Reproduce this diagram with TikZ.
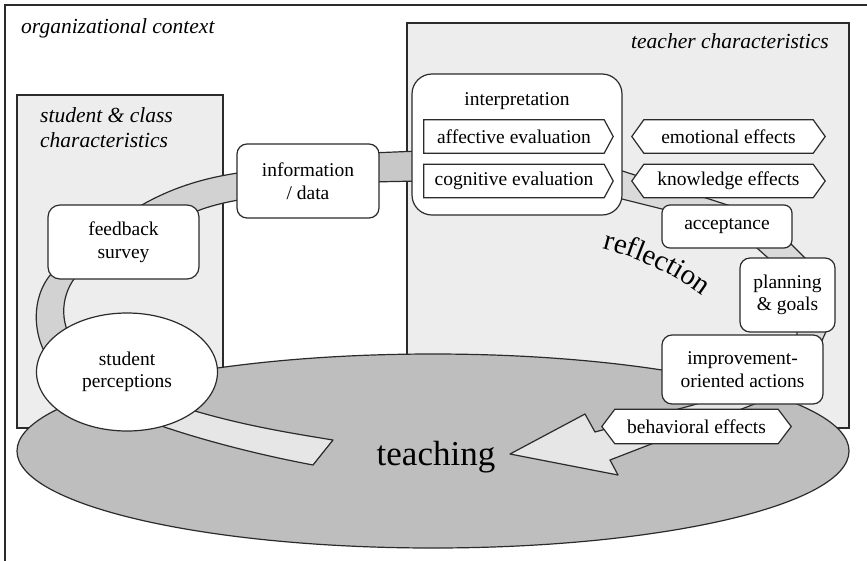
\documentclass[tikz,border=0pt]{standalone}
\usepackage{fontspec}
\setmainfont{Liberation Serif}
\usetikzlibrary{calc,shapes.geometric,decorations.text}
\definecolor{linec}{HTML}{2B2B2B}
\definecolor{panel}{HTML}{EDEDED}
\definecolor{teachc}{HTML}{BEBEBE}
\definecolor{bandD}{HTML}{C8C8C8}
\definecolor{bandM}{HTML}{D2D2D2}
\definecolor{bandMM}{HTML}{DADADA}
\definecolor{bandL}{HTML}{E6E6E6}
\pgfdeclarelayer{back}
\pgfdeclarelayer{mid}
\pgfsetlayers{back,mid,main}
\begin{document}
\begin{tikzpicture}[x=1pt,y=-1pt,
  ln/.style={draw=linec, line width=1.2pt},
  box/.style={ln, fill=white, rounded corners=10pt, align=center, inner sep=0pt, font=\fontsize{19.5}{22.5}\selectfont},
  txt/.style={inner sep=0pt, align=center, font=\fontsize{19.5}{22.5}\selectfont},
  lab/.style={inner sep=0pt, align=left, font=\fontsize{21.5}{25}\selectfont\itshape},
  band/.style={ln, line join=round},
  hexo/.style={ln, fill=white, line join=miter}
]
\useasboundingbox (0,0) rectangle (867,560);

\begin{pgfonlayer}{back}
  \fill[white] (0,0) rectangle (867,560);
  \draw[ln, line width=1.4pt] (5,570) -- (5,5) -- (875,5);
  \draw[ln, fill=panel] (17,95) rectangle (223,428);
  \draw[ln, fill=panel] (407,23) rectangle (849,428);
  \node[ellipse, ln, fill=teachc, minimum width=832pt, minimum height=194pt, inner sep=0pt] (teachell) at (433,451) {};
  % loop band
  \draw[band, fill=bandL] (185,408) .. controls (240,425) and (290,433) .. (333,440) -- (313,465) .. controls (260,455) and (200,440) .. (150,422) -- cycle;
  \draw[band, fill=bandM] (55,270) .. controls (33,290) and (30,330) .. (48,358) -- (72,340) .. controls (58,318) and (62,288) .. (82,270) -- cycle;
  \draw[band, fill=bandM] (124,216) .. controls (163,190) and (200,178) .. (245,172) -- (245,199) .. controls (225,202) and (205,207) .. (190,214) -- cycle;
  \draw[band, fill=bandD] (370,153) -- (420,151) -- (420,181) -- (370,182) -- cycle;
  \draw[band, fill=bandMM] (610,167) -- (740,209) -- (690,216) -- (610,196) -- cycle;
  \draw[band, fill=bandMM] (748,240) -- (776,265) -- (812,265) -- (787,240) -- cycle;
  \draw[band, fill=bandMM] (797,325) -- (797,345) -- (820,345) -- (829,325) -- cycle;
  \draw[band, fill=bandL] (715,399) -- (595,432) -- (585,414) -- (510,454) -- (618,475) -- (610,460) -- (770,398) -- cycle;
  \node[box, minimum width=210pt, minimum height=141pt, rounded corners=20pt] (interp) at (517,144.5) {};
\end{pgfonlayer}

% labels
\node[lab, anchor=base west] (org) at (21,33) {organizational context};
\node[lab, anchor=north west] (stud) at (40,107) {student \& class\\characteristics};
\node[lab, anchor=base east] (teach) at (829,48) {teacher characteristics};

% nodes
\node[box, minimum width=151pt, minimum height=74pt, rounded corners=12pt] (fb) at (123.5,242) {feedback\\survey};
\node[box, minimum width=142pt, minimum height=74pt] (info) at (308,181) {information\\/ data};
\node[txt, anchor=base] (interpt) at (517,105) {interpretation};
\node[txt, minimum width=180pt, minimum height=33pt] (aff) at (514,136.5) {affective evaluation};
\node[txt, minimum width=180pt, minimum height=33pt] (cog) at (514,181) {cognitive evaluation};
\node[txt, minimum width=169pt, minimum height=33pt] (emo) at (728.5,136.5) {emotional effects};
\node[txt, minimum width=169pt, minimum height=33pt] (know) at (728.5,181) {knowledge effects};
\node[box, minimum width=130pt, minimum height=43pt, rounded corners=8pt] (acc) at (727,226.5) {acceptance};
\node[box, minimum width=95pt, minimum height=74pt] (plan) at (787.5,295) {planning\\\& goals};
\node[box, minimum width=161pt, minimum height=69pt] (impr) at (742.5,369.5) {improvement-\\oriented actions};
\node[txt, minimum width=163pt, minimum height=34pt] (beh) at (696.5,426.5) {behavioral effects};
\node[ellipse, ln, fill=white, minimum width=181pt, minimum height=118pt, inner sep=0pt, align=center, font=\fontsize{19.5}{22.5}\selectfont] (sp) at (127,372) {student\\perceptions};

\node[inner sep=0pt, anchor=base, font=\fontsize{35}{35}\selectfont] (teaching) at (436,465) {teaching};
\path[decorate, decoration={text along path, text align=center,
  text={|\fontsize{29}{29}\selectfont|reflection}}]
  (596,247) .. controls (632,255) and (672,272) .. (708,300);

\begin{pgfonlayer}{mid}
  \draw[hexo] (aff.north west) -- (aff.north east) -- ([xshift=9pt]aff.east) -- (aff.south east) -- (aff.south west) -- cycle;
  \draw[hexo] (cog.north west) -- (cog.north east) -- ([xshift=9pt]cog.east) -- (cog.south east) -- (cog.south west) -- cycle;
  \draw[hexo] (emo.north west) -- (emo.north east) -- ([xshift=12pt]emo.east) -- (emo.south east) -- (emo.south west) -- ([xshift=-12pt]emo.west) -- cycle;
  \draw[hexo] (know.north west) -- (know.north east) -- ([xshift=12pt]know.east) -- (know.south east) -- (know.south west) -- ([xshift=-12pt]know.west) -- cycle;
  \draw[hexo] (beh.north west) -- (beh.north east) -- ([xshift=13pt]beh.east) -- (beh.south east) -- (beh.south west) -- ([xshift=-13pt]beh.west) -- cycle;
\end{pgfonlayer}
\end{tikzpicture}
\end{document}
